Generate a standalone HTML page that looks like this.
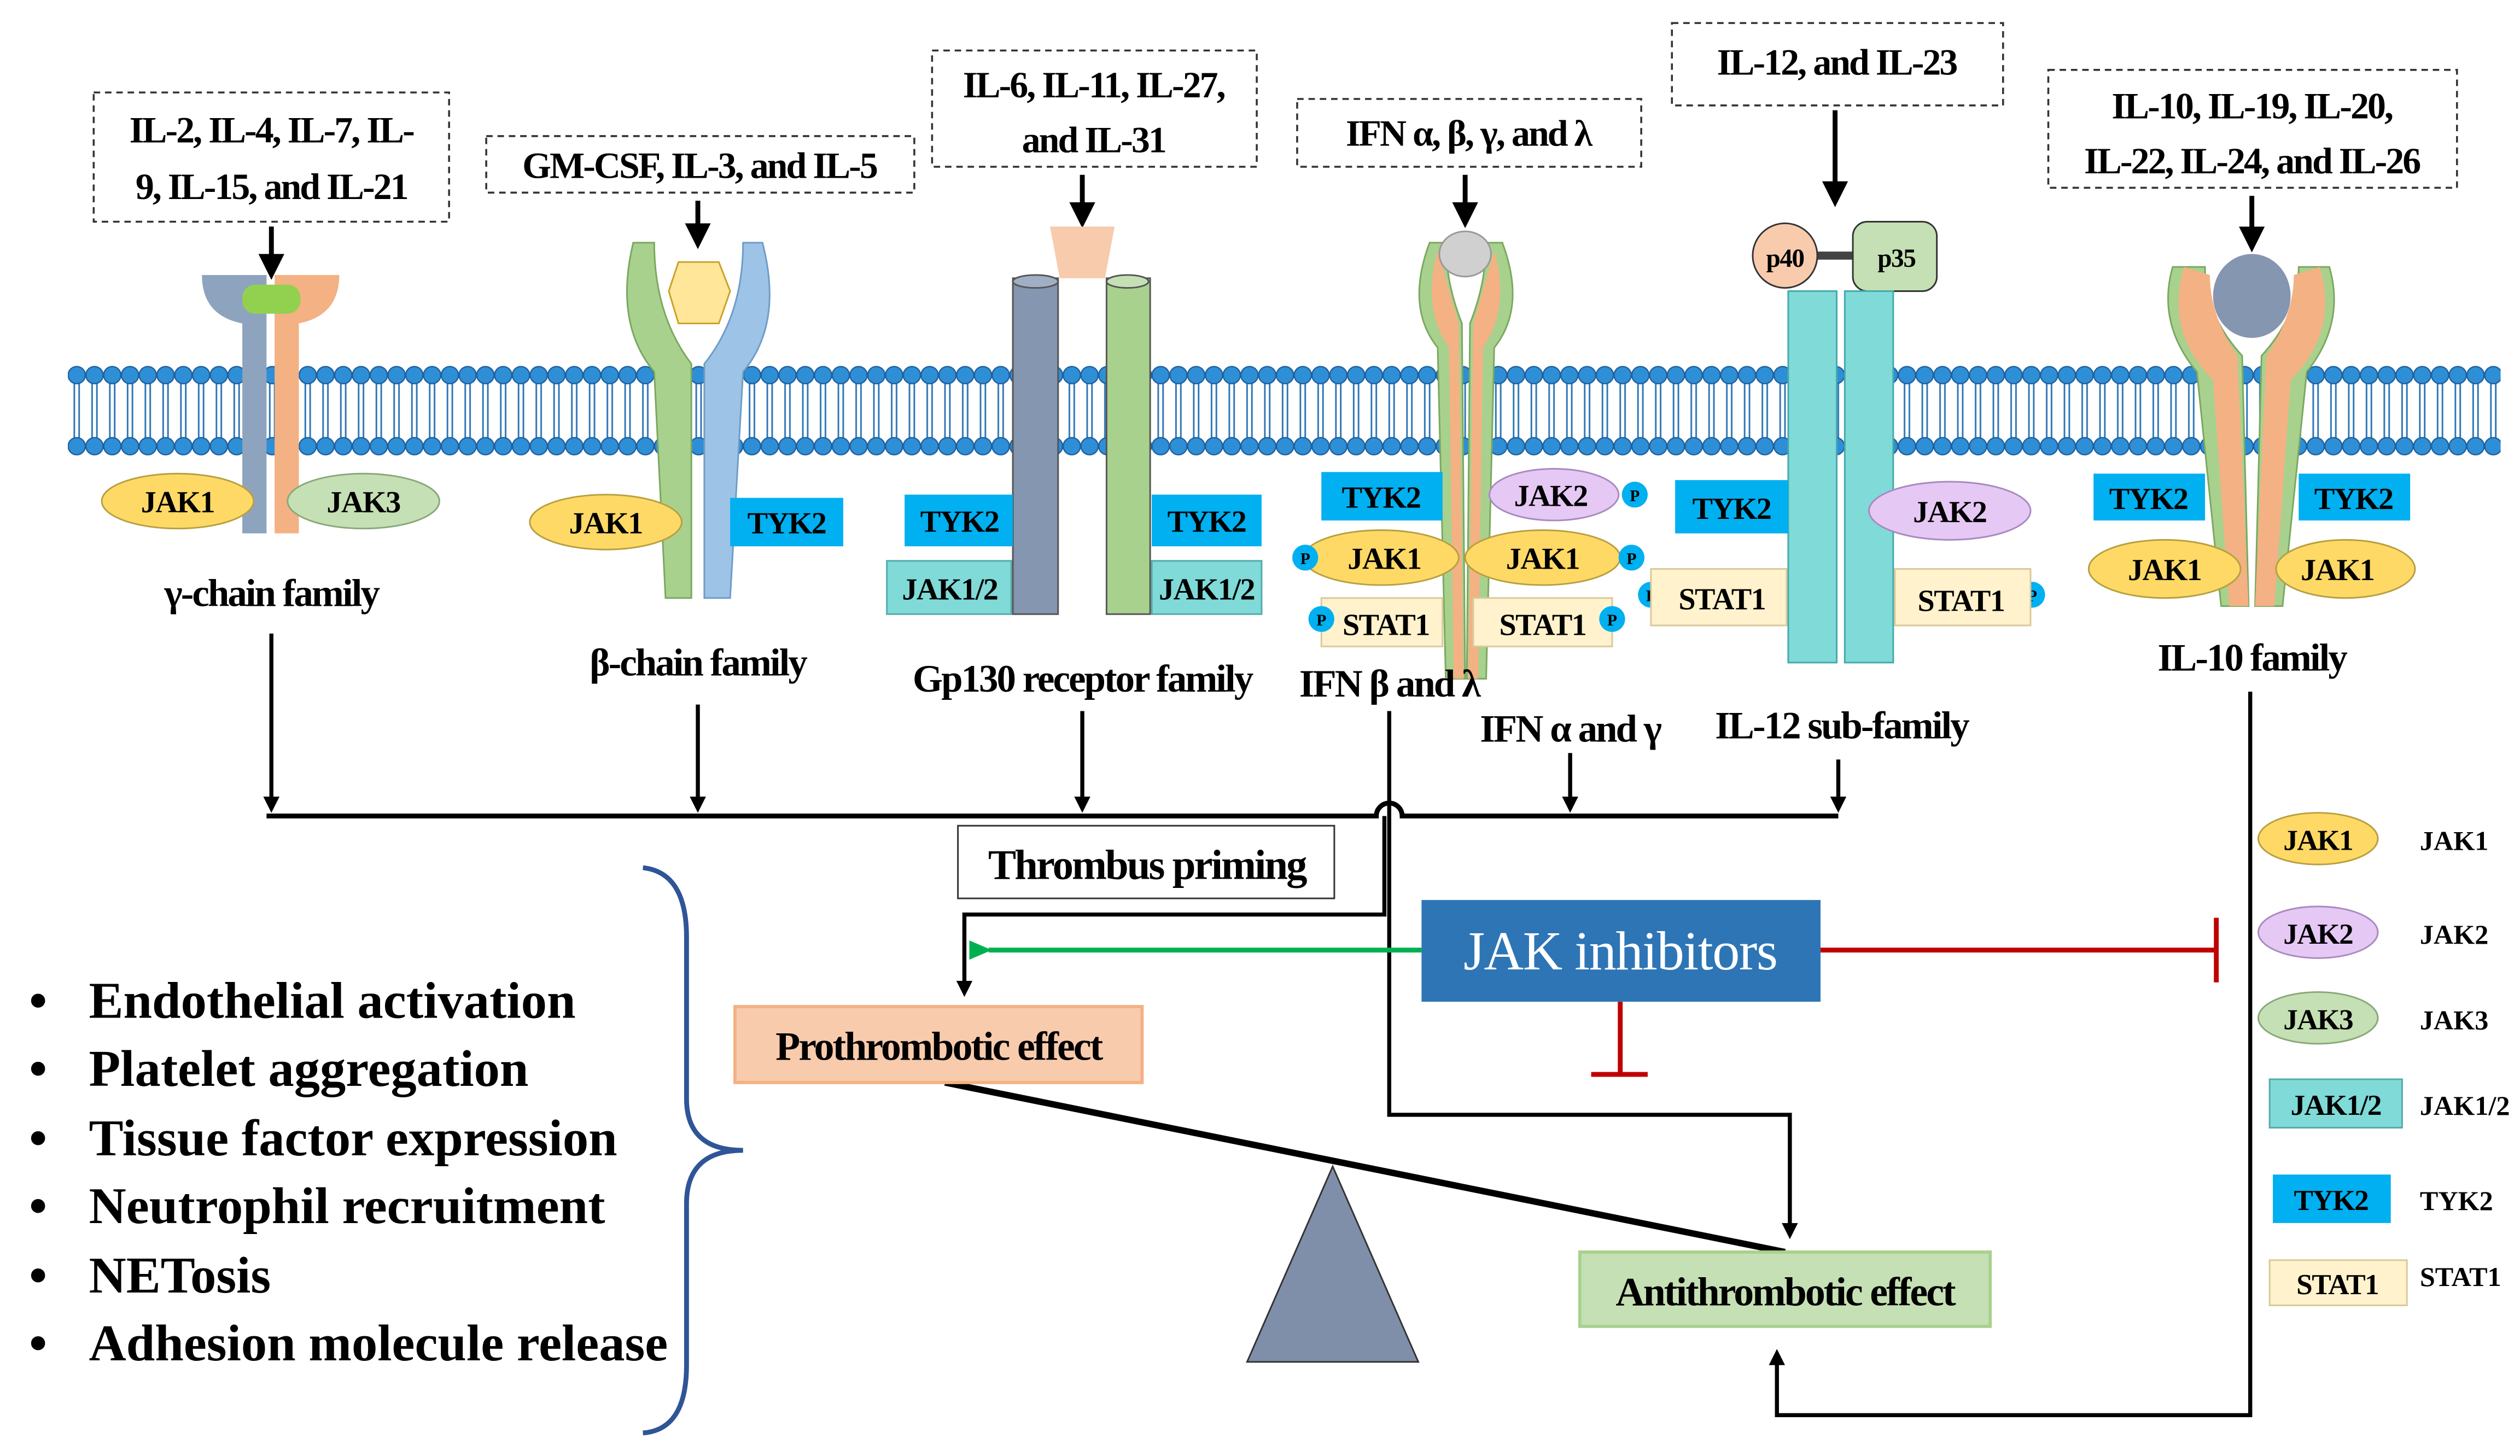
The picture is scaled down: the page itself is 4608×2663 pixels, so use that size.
<!DOCTYPE html>
<html><head><meta charset="utf-8"><style>
html,body{margin:0;padding:0;background:#fff;}
svg{display:block;}
text{font-family:"Liberation Serif",serif;font-weight:bold;}
</style></head><body>
<svg width="4608" height="2663" viewBox="0 0 1560 901" xmlns="http://www.w3.org/2000/svg">
<defs>
<pattern id="mem" x="42" y="0" width="11" height="901" patternUnits="userSpaceOnUse">
<line x1="4" y1="236" x2="4" y2="272" stroke="#2e75b6" stroke-width="1"/>
<line x1="7" y1="236" x2="7" y2="272" stroke="#2e75b6" stroke-width="1"/>
<circle cx="5.5" cy="232" r="5.3" fill="#2e8fd6" stroke="#1f5f9e" stroke-width="0.8"/>
<circle cx="5.5" cy="276" r="5.3" fill="#2e8fd6" stroke="#1f5f9e" stroke-width="0.8"/>
</pattern>
<marker id="ar" markerWidth="10" markerHeight="10" refX="5" refY="5" orient="auto" markerUnits="userSpaceOnUse"><path d="M0,0 L10,5 L0,10 z" fill="#000"/></marker>
<marker id="arb" markerWidth="16" markerHeight="16" refX="8" refY="8" orient="auto" markerUnits="userSpaceOnUse"><path d="M0,0 L16,8 L0,16 z" fill="#000"/></marker>
<marker id="arg" markerWidth="14" markerHeight="12" refX="2" refY="6" orient="auto" markerUnits="userSpaceOnUse"><path d="M14,0 L0,6 L14,12 z" fill="#00b050"/></marker>
</defs>
<rect x="42" y="222" width="1506" height="62" fill="url(#mem)"/>

<g fill="#fff" stroke="#333" stroke-width="1.2" stroke-dasharray="4,3">
<rect x="58" y="57" width="220" height="80"/>
<rect x="301" y="84" width="265" height="35"/>
<rect x="577" y="31" width="201" height="72"/>
<rect x="803" y="61" width="213" height="42"/>
<rect x="1035" y="14" width="205" height="51"/>
<rect x="1268" y="43" width="253" height="73"/>
</g>
<g font-size="23" text-anchor="middle" letter-spacing="-1">
<text x="168" y="88">IL-2, IL-4, IL-7, IL-</text>
<text x="168" y="123">9, IL-15, and IL-21</text>
<text x="433" y="110">GM-CSF, IL-3, and IL-5</text>
<text x="677" y="60">IL-6, IL-11, IL-27,</text>
<text x="677" y="94">and IL-31</text>
<text x="909" y="90">IFN α, β, γ, and λ</text>
<text x="1137" y="46">IL-12, and IL-23</text>
<text x="1394" y="73">IL-10, IL-19, IL-20,</text>
<text x="1394" y="107">IL-22, IL-24, and IL-26</text>
</g>
<g stroke="#000" stroke-width="3" marker-end="url(#arb)">
<line x1="168" y1="140" x2="168" y2="165"/>
<line x1="432" y1="124" x2="432" y2="146"/>
<line x1="670" y1="108" x2="670" y2="133"/>
<line x1="907" y1="108" x2="907" y2="133"/>
<line x1="1136" y1="68" x2="1136" y2="120"/>
<line x1="1394" y1="121" x2="1394" y2="148"/>
</g>

<path d="M125,170 L165,170 L165,330 L150,330 L150,200 Q125,195 125,170 z" fill="#8ea3bd"/>
<path d="M210,170 L170,170 L170,330 L185,330 L185,200 Q210,195 210,170 z" fill="#f4b183"/>
<rect x="150" y="176" width="36" height="18" rx="8" fill="#92d050"/>
<ellipse cx="110" cy="310" rx="47" ry="17" fill="#ffd966" stroke="#b8a040"/>
<ellipse cx="225" cy="310" rx="47" ry="17" fill="#c5e0b4" stroke="#8aa87a"/>
<g font-size="19" text-anchor="middle" letter-spacing="-0.5"><text x="110" y="317">JAK1</text><text x="225" y="317">JAK3</text></g>

<path d="M392,150 Q380,200 405,230 L412,370 L428,370 L428,225 Q405,195 405,150 z" fill="#a9d18e" stroke="#7aa860"/>
<path d="M472,150 Q485,200 460,230 L452,370 L436,370 L436,225 Q460,195 460,150 z" fill="#9dc3e6" stroke="#6f9cc8"/>
<path d="M420,162 L445,162 L452,180 L445,200 L420,200 L414,180 z" fill="#ffe699" stroke="#c9a227"/>
<ellipse cx="375" cy="323" rx="47" ry="17" fill="#ffd966" stroke="#b8a040"/>
<rect x="452" y="308" width="70" height="30" fill="#00b0f0"/>
<g font-size="19" text-anchor="middle" letter-spacing="-0.5"><text x="375" y="330">JAK1</text><text x="487" y="330">TYK2</text></g>

<path d="M650,140 L690,140 L684,172 L656,172 z" fill="#f8cbad"/>
<rect x="627" y="172" width="28" height="208" fill="#8496b0" stroke="#555"/>
<ellipse cx="641" cy="174" rx="14" ry="4" fill="#a0afc4" stroke="#555"/>
<rect x="685" y="172" width="27" height="208" fill="#a9d18e" stroke="#555"/>
<ellipse cx="698" cy="174" rx="13" ry="4" fill="#c5e0b4" stroke="#555"/>
<rect x="560" y="306" width="67" height="32" fill="#00b0f0"/>
<rect x="713" y="306" width="68" height="32" fill="#00b0f0"/>
<rect x="549" y="347" width="77" height="33" fill="#7fdad8" stroke="#5aa"/>
<rect x="713" y="347" width="68" height="33" fill="#7fdad8" stroke="#5aa"/>
<g font-size="19" text-anchor="middle" letter-spacing="-0.5"><text x="594" y="329">TYK2</text><text x="747" y="329">TYK2</text><text x="588" y="371">JAK1/2</text><text x="747" y="371">JAK1/2</text></g>

<path d="M885,150 Q870,190 890,215 L895,420 L907,420 L905,200 Q895,175 895,150 z" fill="#a9d18e" stroke="#7aa860"/>
<path d="M890,155 Q880,190 897,215 L900,420 L906,420 L903,200 z" fill="#f4b183"/>
<path d="M930,150 Q945,190 925,215 L920,420 L908,420 L910,200 Q920,175 920,150 z" fill="#a9d18e" stroke="#7aa860"/>
<path d="M925,155 Q935,190 918,215 L915,420 L909,420 L912,200 z" fill="#f4b183"/>
<ellipse cx="907" cy="157" rx="16" ry="14" fill="#d0d0d0" stroke="#999"/>
<rect x="818" y="292" width="75" height="30" fill="#00b0f0"/>
<ellipse cx="962" cy="306" rx="40" ry="16" fill="#e6c8f5" stroke="#a98ac0"/>
<ellipse cx="855" cy="345" rx="48" ry="17" fill="#ffd966" stroke="#b8a040"/>
<ellipse cx="955" cy="345" rx="48" ry="17" fill="#ffd966" stroke="#b8a040"/>
<rect x="818" y="370" width="75" height="30" fill="#fff2cc" stroke="#d8c99a"/>
<rect x="912" y="370" width="86" height="30" fill="#fff2cc" stroke="#d8c99a"/>
<g fill="#00b0f0"><circle cx="1012" cy="306" r="8"/><circle cx="808" cy="345" r="8"/><circle cx="1010" cy="345" r="8"/><circle cx="818" cy="383" r="8"/><circle cx="998" cy="383" r="8"/><circle cx="1022" cy="368" r="8"/><circle cx="1258" cy="368" r="8"/></g>
<g font-size="10" text-anchor="middle"><text x="1012" y="310">P</text><text x="808" y="349">P</text><text x="1010" y="349">P</text><text x="818" y="387">P</text><text x="998" y="387">P</text><text x="1022" y="372">P</text><text x="1258" y="372">P</text></g>
<g font-size="19" text-anchor="middle" letter-spacing="-0.5"><text x="855" y="314">TYK2</text><text x="960" y="313">JAK2</text><text x="857" y="352">JAK1</text><text x="955" y="352">JAK1</text><text x="858" y="393">STAT1</text><text x="955" y="393">STAT1</text></g>

<line x1="1122" y1="158" x2="1150" y2="158" stroke="#444" stroke-width="5"/>
<circle cx="1105" cy="158" r="20" fill="#f8cbad" stroke="#333"/>
<rect x="1147" y="137" width="52" height="43" rx="9" fill="#c5e0b4" stroke="#333"/>
<rect x="1107" y="180" width="30" height="230" fill="#7fdad8" stroke="#4aa"/>
<rect x="1142" y="180" width="30" height="230" fill="#7fdad8" stroke="#4aa"/>
<rect x="1037" y="297" width="70" height="33" fill="#00b0f0"/>
<ellipse cx="1207" cy="316" rx="50" ry="18" fill="#e6c8f5" stroke="#a98ac0"/>
<rect x="1022" y="352" width="84" height="35" fill="#fff2cc" stroke="#d8c99a"/>
<rect x="1173" y="352" width="84" height="35" fill="#fff2cc" stroke="#d8c99a"/>
<g font-size="19" text-anchor="middle" letter-spacing="-0.5"><text x="1105" y="165" font-size="16">p40</text><text x="1174" y="165" font-size="16">p35</text><text x="1072" y="321">TYK2</text><text x="1207" y="323">JAK2</text><text x="1066" y="377">STAT1</text><text x="1214" y="378">STAT1</text></g>

<path d="M1345,165 Q1335,200 1360,230 L1375,375 L1392,375 L1388,220 Q1365,195 1365,165 z" fill="#a9d18e" stroke="#7aa860"/>
<path d="M1442,165 Q1452,200 1428,230 L1413,375 L1396,375 L1400,220 Q1423,195 1423,165 z" fill="#a9d18e" stroke="#7aa860"/>
<path d="M1352,165 Q1340,205 1370,235 L1380,375 L1392,375 L1385,220 Q1368,195 1368,170 z" fill="#f4b183"/>
<path d="M1436,165 Q1448,205 1418,235 L1408,375 L1396,375 L1403,220 Q1420,195 1420,170 z" fill="#f4b183"/>
<ellipse cx="1394" cy="183" rx="24" ry="26" fill="#8496b0"/>
<rect x="1296" y="293" width="69" height="29" fill="#00b0f0"/>
<rect x="1423" y="293" width="69" height="29" fill="#00b0f0"/>
<ellipse cx="1340" cy="352" rx="47" ry="18" fill="#ffd966" stroke="#b8a040"/>
<ellipse cx="1452" cy="352" rx="43" ry="18" fill="#ffd966" stroke="#b8a040"/>
<g font-size="19" text-anchor="middle" letter-spacing="-0.5"><text x="1330" y="315">TYK2</text><text x="1457" y="315">TYK2</text><text x="1340" y="359">JAK1</text><text x="1447" y="359">JAK1</text></g>

<g font-size="24" text-anchor="middle" letter-spacing="-1">
<text x="168" y="375">γ-chain family</text>
<text x="432" y="418">β-chain family</text>
<text x="670" y="428">Gp130 receptor family</text>
<text x="860" y="431">IFN β and λ</text>
<text x="972" y="459">IFN α and γ</text>
<text x="1140" y="457">IL-12 sub-family</text>
<text x="1394" y="415">IL-10 family</text>
</g>

<g stroke="#000" stroke-width="2.5" fill="none">
<line x1="168" y1="392" x2="168" y2="498" marker-end="url(#ar)"/>
<line x1="432" y1="436" x2="432" y2="498" marker-end="url(#ar)"/>
<line x1="670" y1="440" x2="670" y2="498" marker-end="url(#ar)"/>
<line x1="972" y1="466" x2="972" y2="498" marker-end="url(#ar)"/>
<line x1="1138" y1="470" x2="1138" y2="498" marker-end="url(#ar)"/>
<path d="M165,505 L852,505 A8,8 0 0 1 868,505 L1138,505" stroke-width="3"/>
<path d="M860,440 L860,690 L1108,690 L1108,762" marker-end="url(#ar)"/>
<path d="M1393,428 L1393,876 L1100,876 L1100,840" marker-end="url(#ar)"/>
<path d="M857,505 L857,566 L597,566 L597,612" marker-end="url(#ar)"/>
</g>

<rect x="593" y="511" width="233" height="45" fill="#fff" stroke="#333" stroke-width="1"/>
<text x="710" y="544" font-size="26" text-anchor="middle" letter-spacing="-1">Thrombus priming</text>

<line x1="880" y1="588" x2="612" y2="588" stroke="#00b050" stroke-width="3" marker-end="url(#arg)"/>
<line x1="1127" y1="588" x2="1372" y2="588" stroke="#c00000" stroke-width="3"/>
<line x1="1372" y1="568" x2="1372" y2="608" stroke="#c00000" stroke-width="3"/>
<line x1="1003" y1="620" x2="1003" y2="665" stroke="#c00000" stroke-width="3"/>
<line x1="985" y1="665" x2="1020" y2="665" stroke="#c00000" stroke-width="3"/>
<rect x="880" y="557" width="247" height="63" fill="#2e75b6"/>
<text x="1003" y="600" font-size="34" fill="#fff" text-anchor="middle" style="font-weight:normal" letter-spacing="-0.5">JAK inhibitors</text>

<line x1="585" y1="670" x2="1105" y2="775" stroke="#000" stroke-width="4"/>
<polygon points="772,843 878,843 825,722" fill="#7f8faa" stroke="#333"/>
<rect x="455" y="623" width="252" height="47" fill="#f8cbad" stroke="#f4b183" stroke-width="2"/>
<text x="581" y="656" font-size="25" text-anchor="middle" letter-spacing="-1">Prothrombotic effect</text>
<rect x="978" y="775" width="254" height="46" fill="#c5e0b4" stroke="#a9d18e" stroke-width="2"/>
<text x="1105" y="808" font-size="25" text-anchor="middle" letter-spacing="-1">Antithrombotic effect</text>

<path d="M398,537 Q425,540 425,580 L425,680 Q425,712 460,712 Q425,712 425,745 L425,845 Q425,885 398,887" fill="none" stroke="#2f5597" stroke-width="3"/>

<g font-size="32" letter-spacing="0">
<text x="18" y="630">•</text><text x="55" y="630">Endothelial activation</text>
<text x="18" y="672">•</text><text x="55" y="672">Platelet aggregation</text>
<text x="18" y="715">•</text><text x="55" y="715">Tissue factor expression</text>
<text x="18" y="757">•</text><text x="55" y="757">Neutrophil recruitment</text>
<text x="18" y="800">•</text><text x="55" y="800">NETosis</text>
<text x="18" y="842">•</text><text x="55" y="842">Adhesion molecule release</text>
</g>

<ellipse cx="1435" cy="519" rx="37" ry="16" fill="#ffd966" stroke="#b8a040"/>
<ellipse cx="1435" cy="577" rx="37" ry="16" fill="#e6c8f5" stroke="#a98ac0"/>
<ellipse cx="1435" cy="630" rx="37" ry="16" fill="#c5e0b4" stroke="#8aa87a"/>
<rect x="1405" y="668" width="82" height="30" fill="#7fdad8" stroke="#5aa"/>
<rect x="1407" y="727" width="73" height="30" fill="#00b0f0"/>
<rect x="1405" y="780" width="85" height="28" fill="#fff2cc" stroke="#d8c99a"/>
<g font-size="18" text-anchor="middle" letter-spacing="-0.5">
<text x="1435" y="526">JAK1</text><text x="1435" y="584">JAK2</text><text x="1435" y="637">JAK3</text>
<text x="1446" y="690">JAK1/2</text><text x="1443" y="749">TYK2</text><text x="1447" y="801">STAT1</text>
</g>
<g font-size="17">
<text x="1498" y="526">JAK1</text><text x="1498" y="584">JAK2</text><text x="1498" y="637">JAK3</text>
<text x="1498" y="690">JAK1/2</text><text x="1498" y="749">TYK2</text><text x="1498" y="796">STAT1</text>
</g>
</svg>
</body></html>
